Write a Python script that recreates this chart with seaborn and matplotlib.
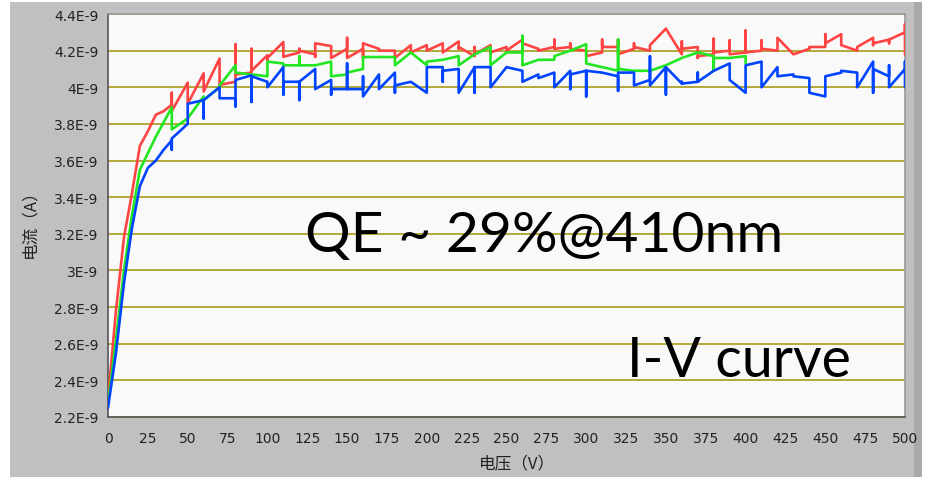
import matplotlib
matplotlib.use("Agg")
import matplotlib.pyplot as plt
import seaborn as sns
import pandas as pd
from matplotlib.patches import Rectangle

# ---------------- data (current in units of 1e-9 A) ----------------
rise_volts = [0, 5, 10, 15, 20, 25, 30, 35]
red_rise   = [2.30, 2.78, 3.18, 3.42, 3.68, 3.76, 3.85, 3.87]
green_rise = [2.27, 2.62, 3.00, 3.30, 3.55, 3.64, 3.73, 3.81]
blue_rise  = [2.25, 2.55, 2.93, 3.23, 3.46, 3.56, 3.60, 3.66]

step_volts = [40, 50, 60, 70, 80, 90, 100, 110, 120, 130, 140, 150, 160, 170,
              180, 190, 200, 210, 220, 230, 240, 250, 260, 270, 280, 290, 300,
              310, 320, 330, 340, 350, 360, 370, 380, 390, 400, 410, 420, 430,
              440, 450, 460, 470, 480, 490, 500]

# three readings at each voltage step: first, middle, last
red_first = [3.905, 4.025, 4.076, 4.157, 4.03, 4.08, 4.175, 4.247, 4.19, 4.18,
             4.225, 4.21, 4.21, 4.21, 4.20, 4.23, 4.23, 4.24, 4.25, 4.17, 4.23,
             4.22, 4.26, 4.21, 4.22, 4.22, 4.20, 4.19, 4.22, 4.21, 4.20, 4.32,
             4.18, 4.22, 4.18, 4.20, 4.19, 4.20, 4.20, 4.18, 4.21, 4.22, 4.29,
             4.20, 4.27, 4.26, 4.30]
red_mid   = [3.97, 3.91, 3.977, 4.013, 4.234, 4.21, 4.15, 4.166, 4.21, 4.166,
             4.20, 4.27, 4.16, 4.20, 4.16, 4.19, 4.20, 4.20, 4.21, 4.22, 4.18,
             4.20, 4.28, 4.20, 4.26, 4.24, 4.17, 4.26, 4.26, 4.24, 4.23, 4.32,
             4.25, 4.16, 4.265, 4.256, 4.31, 4.256, 4.27, 4.18, 4.22, 4.29, 4.23,
             4.22, 4.23, 4.24, 4.345]
red_last  = [3.87, 3.91, 3.977, 4.013, 4.07, 4.09, 4.16, 4.166, 4.20, 4.24,
             4.16, 4.16, 4.24, 4.20, 4.16, 4.19, 4.20, 4.19, 4.22, 4.18, 4.19,
             4.20, 4.24, 4.20, 4.21, 4.21, 4.17, 4.22, 4.18, 4.22, 4.23, 4.32,
             4.21, 4.17, 4.19, 4.18, 4.19, 4.21, 4.27, 4.18, 4.22, 4.24, 4.23,
             4.22, 4.24, 4.26, 4.18]

green_first = [3.89, 3.83, 3.95, 4.00, 4.12, 4.07, 4.06, 4.13, 4.12, 4.12, 4.14,
               4.07, 4.10, 4.165, 4.165, 4.19, 4.12, 4.15, 4.17, 4.18, 4.22,
               4.19, 4.19, 4.15, 4.15, 4.20, 4.235, 4.11, 4.09, 4.09, 4.09,
               4.12, 4.16, 4.19, 4.17, 4.16, 4.17]
green_mid   = [3.89, 3.83, 3.95, 4.00, 4.12, 4.07, 4.14, 4.13, 4.17, 4.12, 4.14,
               4.07, 4.165, 4.165, 4.12, 4.19, 4.13, 4.15, 4.12, 4.18, 4.22,
               4.19, 4.28, 4.15, 4.17, 4.20, 4.14, 4.11, 4.26, 4.09, 4.09,
               4.12, 4.16, 4.19, 4.09, 4.16, 4.17]
green_last  = [3.77, 3.83, 3.93, 4.01, 4.08, 4.07, 4.14, 4.12, 4.12, 4.12, 4.06,
               4.08, 4.165, 4.165, 4.12, 4.19, 4.14, 4.15, 4.12, 4.18, 4.12,
               4.19, 4.12, 4.15, 4.17, 4.20, 4.13, 4.11, 4.10, 4.09, 4.09,
               4.12, 4.16, 4.19, 4.16, 4.16, 4.13]

blue_first = [3.71, 3.80, 3.93, 4.00, 3.94, 4.065, 4.03, 4.11, 4.03, 4.10, 4.04,
              3.99, 3.99, 4.07, 4.08, 4.03, 3.97, 4.11, 4.10, 4.11, 4.11, 4.11,
              4.09, 4.07, 4.08, 4.09, 4.09, 4.08, 4.06, 4.08, 4.04, 4.11, 4.02,
              4.03, 4.09, 4.13, 3.97, 4.14, 4.11, 4.07, 4.05, 3.95, 4.08, 4.08,
              4.14, 4.06, 4.10]
blue_mid   = [3.66, 3.80, 3.83, 4.00, 3.895, 3.92, 4.00, 3.96, 3.93, 4.10, 3.96,
              4.13, 4.06, 4.07, 3.97, 4.03, 4.11, 4.03, 3.97, 3.97, 4.11, 4.11,
              4.09, 4.05, 4.08, 3.99, 3.95, 4.08, 3.98, 4.01, 4.17, 3.96, 4.03,
              4.08, 4.09, 4.04, 4.12, 4.14, 4.11, 4.07, 3.97, 4.06, 4.08, 4.00,
              3.97, 4.12, 4.14]
blue_last  = [3.72, 3.91, 3.93, 3.94, 4.04, 4.06, 4.00, 4.03, 4.03, 3.99, 3.99,
              3.99, 3.95, 3.99, 4.01, 4.03, 4.11, 4.09, 3.97, 4.11, 4.00, 4.11,
              4.03, 4.05, 4.00, 4.07, 4.09, 4.08, 4.08, 4.01, 4.01, 4.11, 4.02,
              4.03, 4.09, 4.04, 4.12, 4.00, 4.06, 4.06, 3.97, 4.06, 4.09, 4.00,
              4.10, 4.00, 4.00]

y_ticks = [2.2, 2.4, 2.6, 2.8, 3.0, 3.2, 3.4, 3.6, 3.8, 4.0, 4.2, 4.4]
y_tick_labels = ["2.2E-9", "2.4E-9", "2.6E-9", "2.8E-9", "3E-9", "3.2E-9",
                 "3.4E-9", "3.6E-9", "3.8E-9", "4E-9", "4.2E-9", "4.4E-9"]
x_ticks = [0, 25, 50, 75, 100, 125, 150, 175, 200, 225, 250, 275, 300, 325,
           350, 375, 400, 425, 450, 475, 500]


def build(name, rise, first, mid, last):
    rows = []
    for v, y in zip(rise_volts, rise):
        rows.append((v, y))
    for v, a, b, c in zip(step_volts, first, mid, last):
        rows.extend([(v, a), (v, b), (v, c)])
    df = pd.DataFrame(rows, columns=["V", "I"])
    df["I"] = df["I"] * 1e-9
    df["series"] = name
    return df


red_df = build("red", red_rise, red_first, red_mid, red_last)
green_df = build("green", green_rise, green_first, green_mid, green_last)
blue_df = build("blue", blue_rise, blue_first, blue_mid, blue_last)

# ---------------- figure ----------------
sns.set_theme(style="white")
plt.rcParams["font.family"] = ["DejaVu Sans", "Noto Sans CJK SC"]

fig = plt.figure(figsize=(9.30, 4.81), dpi=100)
fig.patch.set_facecolor("white")
# gray LabVIEW-like panel
fig.add_artist(Rectangle((10 / 930, 1 - 478 / 481), 905 / 930, 475 / 481,
                         transform=fig.transFigure, facecolor="#c0c0c0",
                         edgecolor="none", zorder=-5))
fig.add_artist(Rectangle((914 / 930, 1 - 478 / 481), 8 / 930, 475 / 481,
                         transform=fig.transFigure, facecolor="#a9a9a9",
                         edgecolor="none", zorder=-5))

ax = fig.add_axes([108 / 930, 1 - 418 / 481, (905 - 108) / 930, (418 - 15) / 481])
ax.set_zorder(2)
ax.set_facecolor("#f9f9f9")

for df, col in [(red_df, "#ff4444"), (green_df, "#22e622"), (blue_df, "#0044ff")]:
    sns.lineplot(data=df, x="V", y="I", sort=False, estimator=None, ax=ax,
                 color=col, linewidth=1.9, legend=False, zorder=3)

ax.set_xlim(0, 500)
ax.set_ylim(2.2e-9, 4.4e-9)
ax.set_yticks([t * 1e-9 for t in y_ticks])
ax.set_yticklabels(y_tick_labels)
ax.set_xticks(x_ticks)
ax.set_xticklabels([str(t) for t in x_ticks])
ax.yaxis.grid(True, color="#b3a838", linewidth=1.4, zorder=1)
ax.xaxis.grid(False)
ax.set_axisbelow(True)

ax.tick_params(axis="both", direction="out", length=5, width=1, color="#333333",
               labelsize=10, labelcolor="#222222", pad=2)
ax.tick_params(axis="x", pad=5)
for s in ax.spines.values():
    s.set_color("#9a9a9a")
    s.set_linewidth(1.2)
ax.spines["left"].set_color("#555555")
ax.spines["bottom"].set_color("#555555")

ax.set_xlabel("电压（V）", fontsize=12, color="#222222",
              family=["Noto Sans CJK SC", "DejaVu Sans"])
ax.set_ylabel("电流（A）", fontsize=12, color="#222222",
              family=["Noto Sans CJK SC", "DejaVu Sans"])
ax.xaxis.set_label_coords(0.513, (418 - 455) / 403)
ax.yaxis.set_label_coords((38 - 108) / 797, (418 - 220) / 403)

fig.text(305 / 930, 1 - 252 / 481, "QE ~ 29%@410nm", fontsize=41,
         family="Lato", color="black", ha="left", va="baseline", zorder=10)
fig.text(627 / 930, 1 - 377 / 481, "I-V curve", fontsize=40,
         family="Lato", color="black", ha="left", va="baseline", zorder=10)

fig.savefig("out.png", dpi=100, facecolor="white")
